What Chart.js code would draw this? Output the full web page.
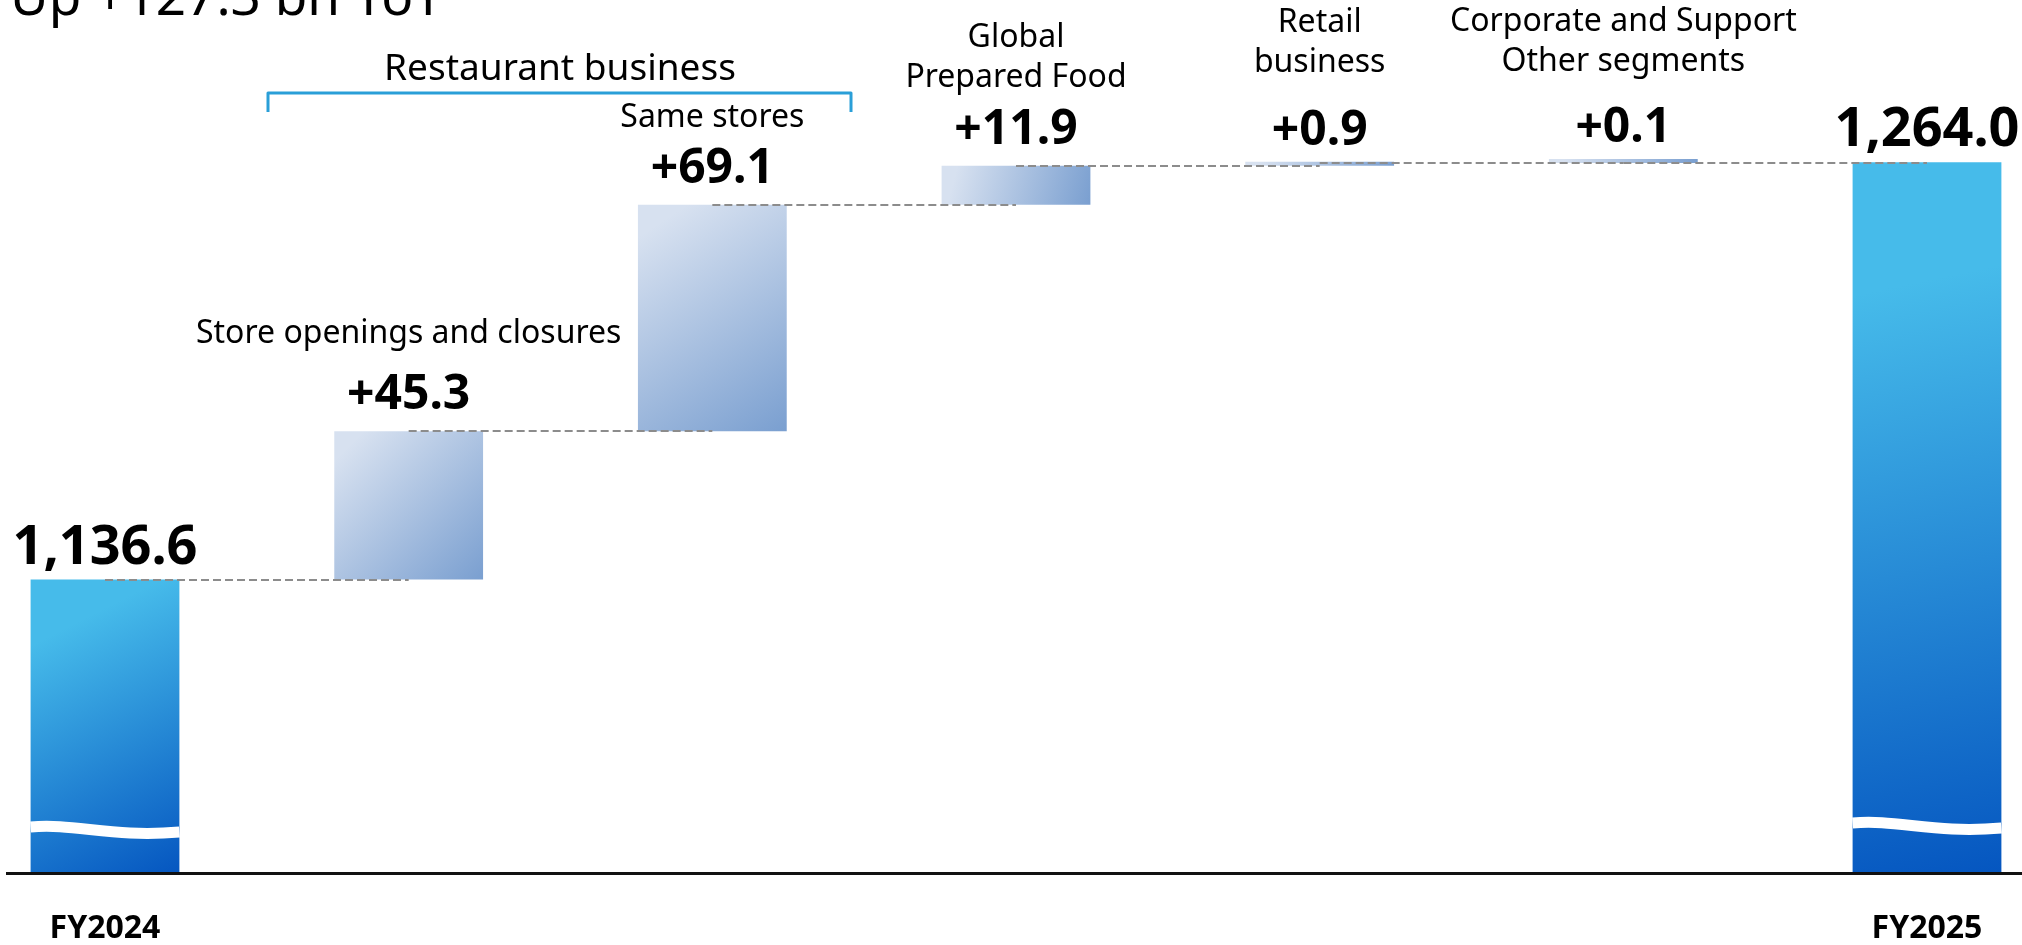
<!DOCTYPE html>
<html>
<head>
<meta charset="utf-8">
<script src="https://cdn.jsdelivr.net/npm/chart.js@4.4.1/dist/chart.umd.min.js"></script>
<style>
    html, body { margin: 0; padding: 0; background: #fff; }
    #wrap { position: relative; width: 2022px; height: 945px; }
</style>
</head>
<body>
<div id="wrap"><canvas id="waterfall"></canvas></div>
<script>
// values
const categories = ['FY2024', 'Store openings and closures', 'Same stores', 'Global Prepared Food', 'Retail business', 'Corporate and Support Other segments', 'FY2025'];
const nameLines = [[], ['Store openings and closures'], ['Same stores'], ['Global', 'Prepared Food'], ['Retail', 'business'], ['Corporate and Support', 'Other segments'], []];
const startTotal = 1136.6;
const deltas = [45.3, 69.1, 11.9, 0.9, 0.1];
const endTotal = 1264.0;
const valueLabels = ['1,136.6', '+45.3', '+69.1', '+11.9', '+0.9', '+0.1', '1,264.0'];
const axisMin = 1047;
const axisMax = 1283;
const titleText = 'Up +127.3 bn YoY';
const groupText = 'Restaurant business';

// floating bars for the waterfall
const floating = [[axisMin, startTotal]];
let level = startTotal;
deltas.forEach(d => {
    floating.push([level, level + d]);
    level += d;
});
floating.push([axisMin, endTotal]);

const FONT = '"Noto Sans", "Open Sans", sans-serif';
const last = categories.length - 1;

function barFill(context) {
    const chart = context.chart;
    const isTotal = context.dataIndex === 0 || context.dataIndex === last;
    const light = isTotal ? '#46bbea' : '#d7e1f0';
    const dark = isTotal ? '#0556c0' : '#7a9fd0';
    const xs = chart.scales.x, ys = chart.scales.y;
    if (!chart.chartArea || !xs || !context.raw) return dark;
    const cx = xs.getPixelForValue(context.dataIndex);
    const half = xs.width / last * 0.49 / 2;
    const top = ys.getPixelForValue(context.raw[1]);
    const bottom = ys.getPixelForValue(context.raw[0]);
    const g = chart.ctx.createLinearGradient(cx - half, top, cx + half, bottom);
    g.addColorStop(0, light);
    g.addColorStop(isTotal ? 0.18 : 0.1, light);
    g.addColorStop(1, dark);
    return g;
}

// label spacing (style only)
const nameGap = [0, 66, 56, 57, 73, 71, 0];

const annotations = {
    id: 'annotations',
    afterDatasetsDraw(chart) {
        const { ctx, scales: { x, y } } = chart;
        const bars = chart.getDatasetMeta(0).data;
        ctx.save();

        // dashed connectors
        ctx.strokeStyle = '#8c8c8c';
        ctx.lineWidth = 2;
        ctx.setLineDash([8, 4]);
        for (let i = 0; i < last; i++) {
            const py = Math.round(y.getPixelForValue(floating[i][1]));
            ctx.beginPath();
            ctx.moveTo(x.getPixelForValue(i), py);
            ctx.lineTo(x.getPixelForValue(i + 1), py);
            ctx.stroke();
        }
        ctx.setLineDash([]);

        // wavy break on the total bars
        ctx.strokeStyle = '#ffffff';
        ctx.lineWidth = 11;
        [0, last].forEach(i => {
            const b = bars[i];
            const L = b.x - b.width / 2, R = b.x + b.width / 2, w = b.width;
            const yc = b.base - (i === 0 ? 42 : 46);
            ctx.beginPath();
            ctx.moveTo(L, yc - 4);
            ctx.bezierCurveTo(L + w * 0.3, yc - 8, L + w * 0.55, yc + 7, R, yc + 1);
            ctx.stroke();
        });

        // ground line
        ctx.fillStyle = '#111';
        ctx.fillRect(6, Math.round(chart.chartArea.bottom) - 1, 2016, 3);

        // value labels and category names
        ctx.fillStyle = '#000';
        ctx.textAlign = 'center';
        ctx.textBaseline = 'alphabetic';
        bars.forEach((b, i) => {
            const isTotal = i === 0 || i === last;
            const top = Math.min(b.y, b.base);
            const vy = top - (isTotal ? 16 : (i >= 4 ? 17 : 22));
            ctx.font = 'bold ' + (isTotal ? 54 : 48) + 'px ' + FONT;
            ctx.fillText(valueLabels[i], b.x, vy);
            const lines = nameLines[i];
            ctx.font = '32px ' + FONT;
            lines.forEach((t, k) => {
                ctx.fillText(t, b.x, vy - nameGap[i] - (lines.length - 1 - k) * 40);
            });
        });

        // group bracket
        ctx.strokeStyle = '#2a9fd8';
        ctx.lineWidth = 3;
        ctx.lineJoin = 'round';
        ctx.beginPath();
        ctx.moveTo(268, 112);
        ctx.lineTo(268, 93);
        ctx.lineTo(851, 93);
        ctx.lineTo(851, 112);
        ctx.stroke();
        ctx.font = '37px ' + FONT;
        ctx.fillText(groupText, 560, 80);

        // title, cut at the top as in the slide
        ctx.textAlign = 'left';
        ctx.font = '53px ' + FONT;
        ctx.fillText(titleText, 10, 15);
        ctx.restore();
    }
};

new Chart(document.getElementById('waterfall').getContext('2d'), {
    type: 'bar',
    data: {
        labels: categories,
        datasets: [{
            data: floating,
            backgroundColor: barFill,
            borderWidth: 0,
            borderSkipped: false,
            categoryPercentage: 0.7,
            barPercentage: 0.7,
            minBarLength: 4,
            clip: false
        }]
    },
    options: {
        responsive: true,
        maintainAspectRatio: false,
        devicePixelRatio: 1,
        animation: false,
        layout: { padding: { left: 105, right: 95, top: 100, bottom: 0 } },
        plugins: { legend: { display: false }, tooltip: { enabled: false } },
        scales: {
            x: {
                offset: false,
                grid: { display: false },
                border: { display: false },
                ticks: {
                    autoSkip: false,
                    maxRotation: 0,
                    padding: 29,
                    color: '#000',
                    font: { family: FONT, size: 32, weight: 'bold' },
                    callback: (v, i) => (i === 0 || i === last) ? categories[i] : ''
                },
                afterFit: scale => { scale.height = 72; }
            },
            y: {
                display: false,
                min: axisMin,
                max: axisMax
            }
        }
    },
    plugins: [annotations]
});
</script>
</body>
</html>
